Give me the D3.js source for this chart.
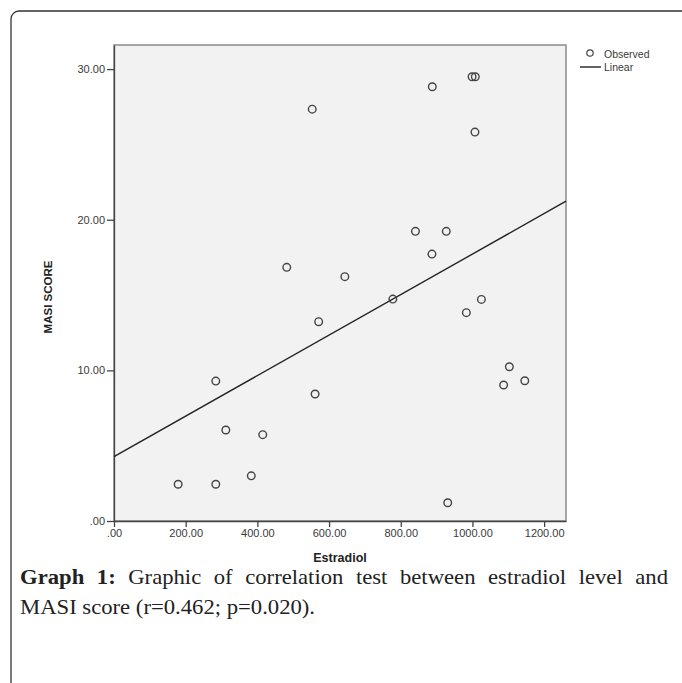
<!DOCTYPE html>
<html>
<head>
<meta charset="utf-8">
<script src="https://cdn.jsdelivr.net/npm/d3@7"></script>
<style>
  body { margin: 0; background: #ffffff; }
  svg { display: block; }
</style>
</head>
<body>
<div id="chart"></div>
<script>
// observed values (Estradiol, MASI score)
var estradiol = [179, 284, 284, 312, 383, 415, 482, 553, 561, 571, 644, 778, 841,
                 887, 888, 927, 931, 983, 999, 1007, 1008, 1025, 1087, 1103, 1146];
var masiScore = [2.44, 2.44, 9.29, 6.04, 3.00, 5.73, 16.84, 27.34, 8.43, 13.23, 16.22, 14.73, 19.23,
                 17.72, 28.83, 19.23, 1.21, 13.83, 29.49, 25.82, 29.49, 14.71, 9.03, 10.24, 9.31];

// linear fit
var fitIntercept = 4.27;
var fitSlope = 0.01345;

var xTicks = [0, 200, 400, 600, 800, 1000, 1200];
var yTicks = [0, 10, 20, 30];
var xDomain = [0, 1261];
var yDomain = [0, 31.6];

var legendLabels = ['Observed', 'Linear'];
var captionBold = 'Graph 1:';
var captionLine1 = 'Graphic of correlation test between estradiol level and';
var captionLine2 = 'MASI score (r=0.462; p=0.020).';

var W = 682, H = 683;
var plot = {left: 114, right: 566, top: 45, bottom: 521};
var ink = '#3a3a3a';
var sans = 'Arial, "Liberation Sans", sans-serif';
var serif = '"Liberation Serif", "Times New Roman", serif';
var capStretch = 1.08; // caption face is a bit wider than Times

var svg = d3.select('#chart').append('svg')
    .attr('width', W)
    .attr('height', H);

// outer frame, rounded and running off the right and bottom edges
svg.append('rect')
    .attr('x', 11).attr('y', 11)
    .attr('width', 720).attr('height', 720)
    .attr('rx', 8)
    .style('fill', 'none')
    .style('stroke', '#333')
    .style('stroke-width', 1.3);

var x = d3.scaleLinear().domain(xDomain).range([plot.left, plot.right]);
var y = d3.scaleLinear().domain(yDomain).range([plot.bottom, plot.top]);

// plot background
svg.append('rect')
    .attr('x', plot.left).attr('y', plot.top)
    .attr('width', plot.right - plot.left)
    .attr('height', plot.bottom - plot.top)
    .style('fill', '#f2f2f2')
    .style('stroke', '#8a8a8a')
    .style('stroke-width', 1.5);

// tick label format, SPSS style (".00")
function fmt(v) {
    return v === 0 ? '.00' : v.toFixed(2);
}

function styleAxis(g) {
    g.select('.domain').style('stroke', '#444').style('stroke-width', 1.3);
    g.selectAll('.tick line').style('stroke', '#444').style('stroke-width', 1.3);
    g.selectAll('.tick text')
        .style('font-family', sans)
        .style('font-size', '11px')
        .style('fill', ink);
}

var xAxis = d3.axisBottom(x).tickValues(xTicks).tickFormat(fmt).tickSize(6).tickSizeOuter(0).tickPadding(2);
svg.append('g')
    .attr('transform', 'translate(0,' + plot.bottom + ')')
    .call(xAxis)
    .call(styleAxis);

var yAxis = d3.axisLeft(y).tickValues(yTicks).tickFormat(fmt).tickSize(7).tickSizeOuter(0).tickPadding(2);
svg.append('g')
    .attr('transform', 'translate(' + plot.left + ',0)')
    .call(yAxis)
    .call(styleAxis);

// axis titles
svg.append('text')
    .attr('x', (plot.left + plot.right) / 2)
    .attr('y', 562)
    .attr('text-anchor', 'middle')
    .style('font-family', sans)
    .style('font-size', '12.5px')
    .style('font-weight', 'bold')
    .style('fill', '#222')
    .text('Estradiol');

svg.append('text')
    .attr('transform', 'translate(52,297) rotate(-90)')
    .attr('text-anchor', 'middle')
    .style('font-family', sans)
    .style('font-size', '11.5px')
    .style('font-weight', 'bold')
    .style('fill', '#222')
    .text('MASI SCORE');

// regression line across the full x range
var fitLine = d3.line()
    .x(function(d) { return x(d); })
    .y(function(d) { return y(fitIntercept + fitSlope * d); });
svg.append('path')
    .attr('d', fitLine(xDomain))
    .style('fill', 'none')
    .style('stroke', '#222')
    .style('stroke-width', 1.4);

// observed points
svg.append('g').selectAll('circle')
    .data(estradiol)
    .enter().append('circle')
    .attr('cx', function(d) { return x(d); })
    .attr('cy', function(d, i) { return y(masiScore[i]); })
    .attr('r', 3.8)
    .style('fill', 'none')
    .style('stroke', '#444')
    .style('stroke-width', 1.4);

// legend
var legend = svg.append('g');
legend.append('circle')
    .attr('cx', 590).attr('cy', 53).attr('r', 3.2)
    .style('fill', 'none').style('stroke', '#444').style('stroke-width', 1.2);
legend.append('line')
    .attr('x1', 580).attr('x2', 601).attr('y1', 67).attr('y2', 67)
    .style('stroke', '#222').style('stroke-width', 1.4);
legend.selectAll('text')
    .data(legendLabels)
    .enter().append('text')
    .attr('x', 604)
    .attr('y', function(d, i) { return 54 + i * 13; })
    .attr('dy', '0.35em')
    .style('font-family', sans)
    .style('font-size', '10.5px')
    .style('fill', ink)
    .text(function(d) { return d; });

// caption: first line justified word by word between x=20 and x=668
var capWords = captionBold.split(' ').map(function(w) { return {text: w, bold: true}; })
    .concat(captionLine1.split(' ').map(function(w) { return {text: w, bold: false}; }));
var capG = svg.append('g')
    .style('font-family', serif)
    .style('font-size', '21px')
    .style('fill', '#222');
var wordNodes = capG.selectAll('text')
    .data(capWords)
    .enter().append('text')
    .style('font-weight', function(d) { return d.bold ? 'bold' : 'normal'; })
    .text(function(d) { return d.text; });
var widths = [];
wordNodes.each(function() { widths.push(this.getComputedTextLength() * capStretch); });
var gap = (668 - 20 - d3.sum(widths)) / (capWords.length - 1);
var cursor = 20;
wordNodes.attr('transform', function(d, i) {
    var pos = cursor;
    cursor += widths[i] + gap;
    return 'translate(' + pos + ',584) scale(' + capStretch + ',1)';
});

svg.append('text')
    .attr('transform', 'translate(20,614) scale(' + capStretch + ',1)')
    .style('font-family', serif)
    .style('font-size', '21px')
    .style('fill', '#222')
    .text(captionLine2);
</script>
</body>
</html>
